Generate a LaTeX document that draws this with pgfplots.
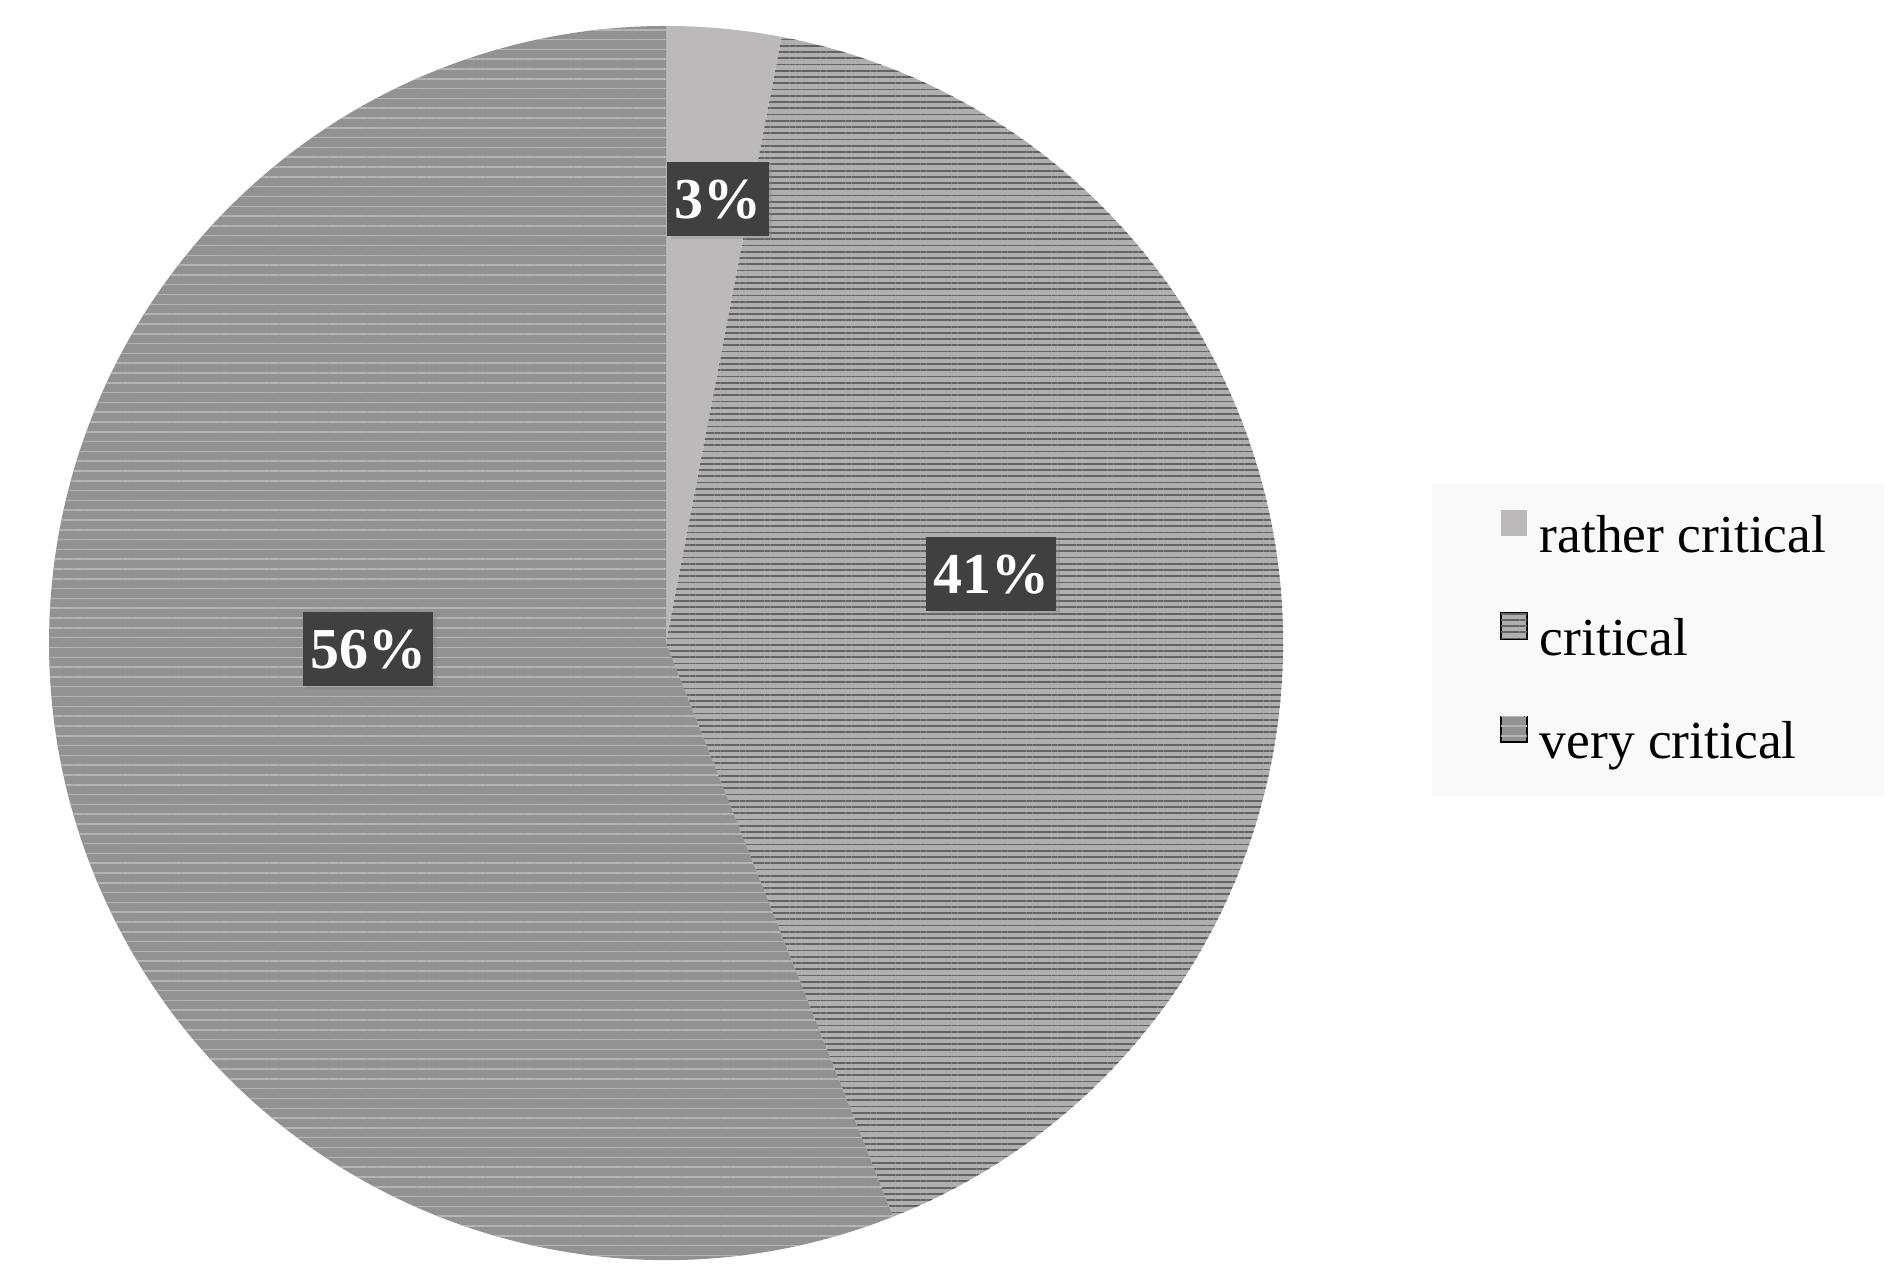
\documentclass[border=0pt]{standalone}
\usepackage{fontspec}
\setmainfont{Liberation Serif}
\usepackage{pgfplots}
\usepackage{pgfplotstable}
\pgfplotsset{compat=1.18}
\usetikzlibrary{patterns.meta,shadows}

\definecolor{rcCol}{RGB}{187,185,185}
\definecolor{crBase}{RGB}{176,175,175}
\definecolor{crLine}{RGB}{100,99,99}
\definecolor{vcBase}{RGB}{146,146,146}
\definecolor{vcLine}{RGB}{182,181,181}
\definecolor{lblBox}{RGB}{64,64,64}
\definecolor{legBg}{RGB}{249,249,249}

\tikzset{
  slice0/.style={fill=rcCol},
  slice1/.style={preaction={fill=crBase},
    pattern={Lines[angle=0,distance=1.4pt,line width=0.4pt]}, pattern color=crLine},
  slice2/.style={preaction={fill=vcBase},
    pattern={Lines[angle=0,distance=2.2pt,line width=0.35pt]}, pattern color=vcLine},
  pct/.style={fill=lblBox, text=white, font=\bfseries\fontsize{13}{15}\selectfont,
    inner xsep=1.6pt, inner ysep=3.8pt, text height=8.8pt, text depth=0pt,
    drop shadow={shadow xshift=0.8pt, shadow yshift=-0.8pt, opacity=0.25}},
}

% shares in percent, label positions in pixel units of the canvas
\pgfplotstableread{
value lx ly
3 718 1076
41 991 701
56 368 626
}\piedata

\begin{document}
\begin{tikzpicture}
\begin{axis}[
    scale only axis,
    width=15cm, height=10.055cm,
    xmin=0, xmax=1902, ymin=0, ymax=1275,
    hide axis,
    clip=false,
    legend cell align=left,
    legend image code/.code={%
        \pgfpathrectangle{\pgfpoint{0pt}{0pt}}{\pgfpoint{11.2pt}{6.4pt}}%
        \pgfusepath{use as bounding box}%
        \fill[#1, draw=none] (4.5pt,0.6pt) rectangle (10.3pt,6.4pt);},
    legend style={
        at={(axis cs:1431,792)}, anchor=north west,
        draw=none, fill=legBg,
        inner xsep=11pt, inner ysep=5.9pt,
        row sep=11.25pt,
        font=\fontsize{12}{14}\selectfont,
        nodes={text height=8.5pt, text depth=2.5pt, inner ysep=0pt, inner xsep=2pt}
    }
]
\path (axis cs:0,0) rectangle (axis cs:1902,1275);

\addlegendimage{slice0}
\addlegendentry{rather critical}
\addlegendimage{slice1}
\addlegendentry{critical}
\addlegendimage{slice2}
\addlegendentry{very critical}

\pgfplotsextra{
  \xdef\cum{0}
  \foreach \i in {0,1,2} {
    \pgfplotstablegetelem{\i}{value}\of\piedata
    \let\val\pgfplotsretval
    \pgfmathsetmacro\aS{90-3.6*\cum}
    \pgfmathsetmacro\aE{90-3.6*(\cum+\val)}
    \pgfmathsetmacro\newcum{\cum+\val}
    \fill[slice\i, overlay] (axis cs:666,632) -- ++(\aS:4.866cm)
      arc[start angle=\aS, end angle=\aE, radius=4.866cm] -- cycle;
    \xdef\cum{\newcum}
  }
  \foreach \i in {0,1,2} {
    \pgfplotstablegetelem{\i}{value}\of\piedata
    \let\val\pgfplotsretval
    \pgfplotstablegetelem{\i}{lx}\of\piedata
    \let\lx\pgfplotsretval
    \pgfplotstablegetelem{\i}{ly}\of\piedata
    \let\ly\pgfplotsretval
    \node[pct] at (axis cs:\lx,\ly) {\val\%};
  }
}
\end{axis}
\end{tikzpicture}
\end{document}
